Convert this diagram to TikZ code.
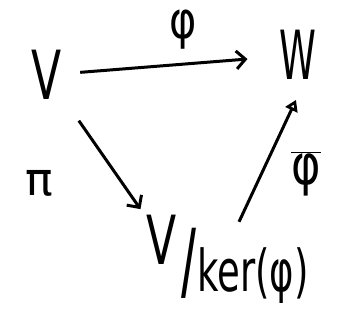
\documentclass[tikz,border=0pt]{standalone}
\usepackage{fontspec}
\setmainfont{DejaVu Sans}
\newfontfamily\slashfont{Liberation Sans}
\usetikzlibrary{arrows.meta,calc}
\begin{document}
\begin{tikzpicture}[x=1bp,y=-1bp,
  obj/.style={inner sep=4bp},
  lbl/.style={inner sep=0bp},
  arr/.style={line width=3bp,-{Straight Barb[length=9bp,width=18bp,line width=3bp]}},
  arrt/.style={line width=3bp,-{Triangle[open,length=11bp,width=13bp,line width=3bp]}}]
\useasboundingbox (0,0) rectangle (347,331);
\node[obj,font=\fontsize{68}{70}\selectfont] (V) at (47,75) {\scalebox{0.65}[1]{V}};
\node[obj,font=\fontsize{68}{70}\selectfont] (W) at (298,55) {\scalebox{0.55}[1]{W}};
\node[obj,font=\fontsize{68}{70}\selectfont] (Q) at (162,240) {\scalebox{0.65}[1]{V}};
\node[lbl,font=\fontsize{60}{62}\selectfont\slashfont] (S) at (189,263) {\scalebox{0.9}[1.6]{/}};
\node[lbl,font=\fontsize{58}{60}\selectfont] (K) at (253,276) {\scalebox{0.64}[1]{ker(φ)}};
\node[lbl,font=\fontsize{52}{54}\selectfont] (phi) at (183,30) {\scalebox{0.8}[1]{φ}};
\node[lbl,font=\fontsize{46}{48}\selectfont] (pi) at (39,183) {π};
\node[lbl,font=\fontsize{56}{58}\selectfont] (phib) at (306,174) {\scalebox{0.8}[1]{$\overline{\mbox{φ}}$}};
\draw[arr,shorten <=14bp,shorten >=28bp] (V) -- (W);
\draw[arr,shorten <=22bp,shorten >=4bp] (V) -- (Q);
\draw[arrt] ($(K.north)+(-14,-26)$) -- ($(W.south)+(-2,16)$);
\end{tikzpicture}
\end{document}
